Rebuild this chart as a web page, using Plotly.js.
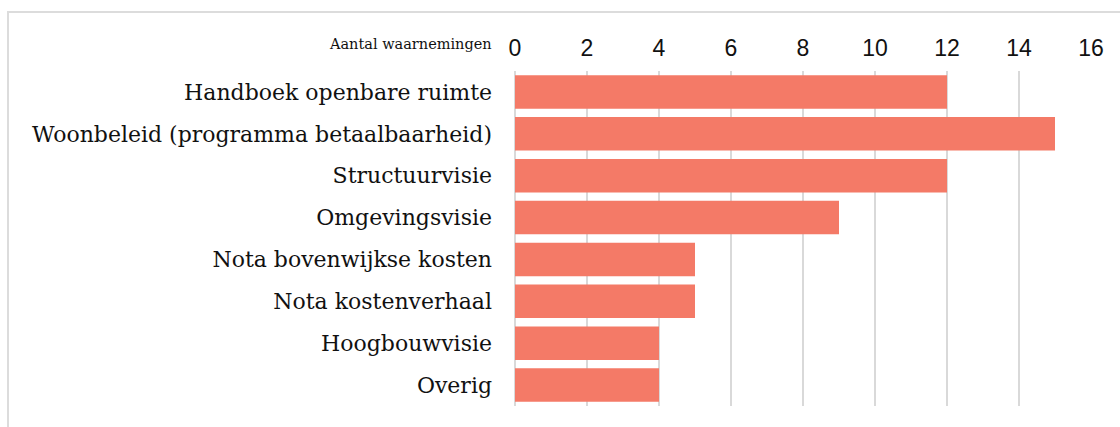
<!DOCTYPE html>
<html>
<head>
<meta charset="utf-8">
<script src="https://cdn.plot.ly/plotly-3.0.1.min.js"></script>
<style>
  html, body { margin: 0; padding: 0; background: #fff; overflow: hidden; }
  #wrap { position: relative; width: 1120px; height: 427px; }
  #chart { position: absolute; left: 0; top: 0; width: 1120px; height: 427px; }
  #frame { position: absolute; left: 7px; top: 11px; width: 1300px; height: 600px;
           border: 2px solid #dcdcdc; pointer-events: none; box-sizing: border-box; }
</style>
</head>
<body>
<div id="wrap">
  <div id="chart"></div>
  <div id="frame"></div>
</div>
<script>
const categories = [
  "Handboek openbare ruimte",
  "Woonbeleid (programma betaalbaarheid)",
  "Structuurvisie",
  "Omgevingsvisie",
  "Nota bovenwijkse kosten",
  "Nota kostenverhaal",
  "Hoogbouwvisie",
  "Overig"
];
const values = [12, 15, 12, 9, 5, 5, 4, 4];
const tickValues = [0, 2, 4, 6, 8, 10, 12, 14, 16];
const axisTitle = "Aantal waarnemingen";

const trace = {
  type: "bar",
  orientation: "h",
  x: values,
  y: categories,
  marker: { color: "#F47A67" },
  hoverinfo: "x+y"
};

const layout = {
  width: 1120,
  height: 427,
  margin: { l: 515, r: 29, t: 71, b: 21, pad: 0 },
  paper_bgcolor: "#ffffff",
  plot_bgcolor: "#ffffff",
  showlegend: false,
  bargap: 0.2,
  xaxis: {
    side: "top",
    range: [0, 16],
    tickvals: tickValues,
    ticktext: tickValues.map(String),
    showgrid: true,
    gridcolor: "#d9d9d9",
    gridwidth: 2,
    zeroline: true,
    zerolinecolor: "#d9d9d9",
    zerolinewidth: 2,
    showline: false,
    ticks: "",
    ticklabelstandoff: 9,
    tickfont: { family: "Liberation Sans Narrow, Arial Narrow, Liberation Sans, sans-serif", size: 23, color: "#111111" },
    fixedrange: true
  },
  yaxis: {
    type: "category",
    categoryorder: "array",
    categoryarray: categories,
    autorange: "reversed",
    showgrid: false,
    zeroline: false,
    showline: false,
    ticks: "",
    ticklabelstandoff: 22,
    tickfont: { family: "DejaVu Serif, serif", size: 22, color: "#111111" },
    fixedrange: true
  },
  annotations: [{
    text: axisTitle,
    xref: "paper",
    yref: "paper",
    x: 0,
    y: 1 + 27 / 335,
    xanchor: "right",
    yanchor: "middle",
    xshift: -21,
    showarrow: false,
    font: { family: "DejaVu Serif, serif", size: 14.5, color: "#111111" }
  }]
};

Plotly.newPlot("chart", [trace], layout, { displayModeBar: false, staticPlot: true });
</script>
</body>
</html>
